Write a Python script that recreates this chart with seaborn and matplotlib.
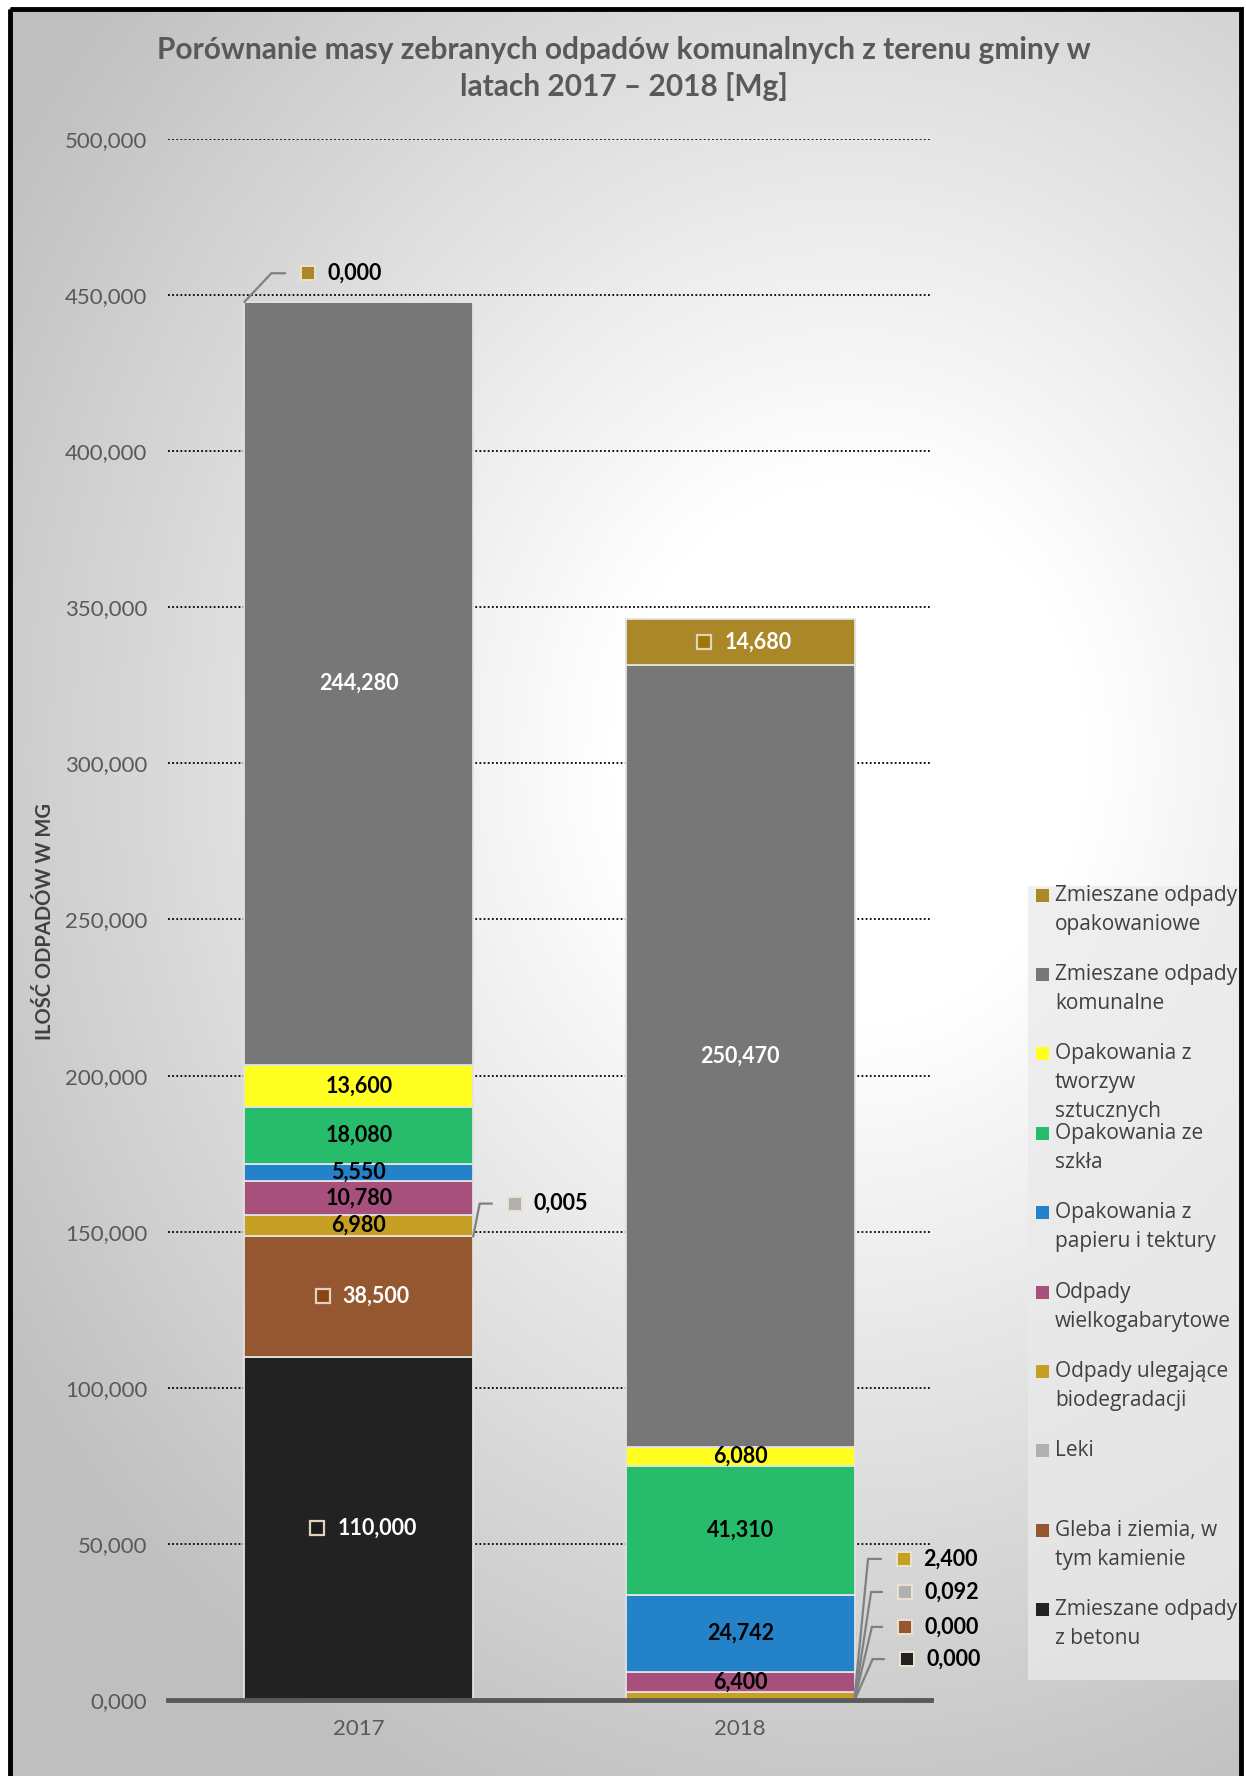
"""
Porównanie masy zebranych odpadów komunalnych 2017-2018 - stacked bar chart
"""

import numpy as np
import matplotlib
matplotlib.use('Agg')
import matplotlib.pyplot as plt
from matplotlib.patches import Rectangle
import seaborn as sns

YEARS = ['2017', '2018']
CATEGORIES = [
    'Zmieszane odpady z betonu',
    'Gleba i ziemia, w tym kamienie',
    'Leki',
    'Odpady ulegające biodegradacji',
    'Odpady wielkogabarytowe',
    'Opakowania z papieru i tektury',
    'Opakowania ze szkła',
    'Opakowania z tworzyw sztucznych',
    'Zmieszane odpady komunalne',
    'Zmieszane odpady opakowaniowe',
]
MASS_2017 = [110.000, 38.500, 0.005, 6.980, 10.780, 5.550, 18.080, 13.600, 244.280, 0.000]
MASS_2018 = [0.000, 0.000, 0.092, 2.400, 6.400, 24.742, 41.310, 6.080, 250.470, 14.680]

COLORS = ['#222222', '#955730', '#B0B0B0', '#C6A024', '#A8507C',
          '#2382C8', '#27BB6C', '#FFFF22', '#777777', '#AA8727']
KEY_COLORS = {0: '#1c1c1c', 1: '#8a4512', 9: '#9c7800'}
WHITE_TEXT = {0, 1, 8, 9}

LEGEND_LINES = {
    9: ['Zmieszane odpady', 'opakowaniowe'],
    8: ['Zmieszane odpady', 'komunalne'],
    7: ['Opakowania z', 'tworzyw', 'sztucznych'],
    6: ['Opakowania ze', 'szkła'],
    5: ['Opakowania z', 'papieru i tektury'],
    4: ['Odpady', 'wielkogabarytowe'],
    3: ['Odpady ulegające', 'biodegradacji'],
    2: ['Leki'],
    1: ['Gleba i ziemia, w', 'tym kamienie'],
    0: ['Zmieszane odpady', 'z betonu'],
}

# labels drawn with a legend key inside the bar
KEYED = {(0, 0), (0, 1), (1, 9)}
# callouts: (year, category, start_side, knee_x, end_x, label_y)
CALLOUTS = [
    (0, 9, 'left', -0.229, -0.193, 457.0),
    (0, 2, 'right', 0.317, 0.349, 159.0),
    (1, 3, 'right', 1.335, 1.369, 45.2),
    (1, 2, 'right', 1.343, 1.372, 34.6),
    (1, 1, 'right', 1.345, 1.372, 23.4),
    (1, 0, 'right', 1.347, 1.377, 13.1),
]

W, H = 1246, 1776
FONT = ['Lato', 'DejaVu Sans']
LEGEND_FONT = ['Open Sans', 'DejaVu Sans']


def fmt(v):
    return f"{v:.3f}".replace('.', ',')


def draw_background(fig):
    bg = fig.add_axes([0, 0, 1, 1], zorder=-10)
    yy, xx = np.mgrid[0:H, 0:W]
    r = np.sqrt(((xx - 850) / 1100.0) ** 2 + ((yy - 750) / 1250.0) ** 2)
    t = np.clip((r - 0.22) / 0.70, 0, 1)
    g = 1.0 - 0.25 * t
    img = np.dstack([g, g, g])
    bg.imshow(img, extent=(9, 1240, H, 9), aspect='auto', interpolation='bilinear')
    bg.set_xlim(0, W)
    bg.set_ylim(H, 0)
    bg.axis('off')
    bg.add_patch(Rectangle((9.5, 9.5), 1231, H + 10, fill=False, edgecolor='black', linewidth=3.5))
    return bg


def main():
    sns.set_theme(style='white')
    plt.rcParams['font.family'] = FONT

    fig = plt.figure(figsize=(W / 100, H / 100), dpi=100, facecolor='white')
    bg = draw_background(fig)

    ax = fig.add_axes([168 / W, 1 - 1700 / H, (931 - 168) / W, (1700 - 139) / H], zorder=1)
    ax.patch.set_alpha(0)

    masses = np.array([MASS_2017, MASS_2018])
    bottoms = np.zeros_like(masses)
    bottom = np.zeros(2)
    for i, cat in enumerate(CATEGORIES):
        vals = masses[:, i]
        bottoms[:, i] = bottom
        sns.barplot(x=YEARS, y=vals, color=COLORS[i], saturation=1, width=0.6,
                    bottom=bottom.copy(), edgecolor='#e2e2e2', linewidth=1.3,
                    errorbar=None, ax=ax, zorder=2)
        bottom = bottom + vals

    ax.set_ylim(0, 500)
    ax.set_xlim(-0.5, 1.5)
    ax.set(xlabel='', ylabel='')
    ticks = np.arange(0, 501, 50)
    ax.set_yticks(ticks)
    ax.set_yticklabels([fmt(t) for t in ticks])
    ax.tick_params(axis='y', length=0, pad=15, labelsize=16, labelcolor='#595959')
    ax.tick_params(axis='x', length=0, pad=14, labelsize=16, labelcolor='#595959')
    ax.set_axisbelow(True)
    ax.yaxis.grid(True, color='black', linestyle=(0, (1, 1.3)), linewidth=1.3)
    for s in ['top', 'left', 'right']:
        ax.spines[s].set_visible(False)
    ax.spines['bottom'].set_color('#595959')
    ax.spines['bottom'].set_linewidth(3.5)
    ax.spines['bottom'].set_zorder(3)

    callout_set = {(c[0], c[1]) for c in CALLOUTS}
    for y in range(2):
        for i in range(len(CATEGORIES)):
            if (y, i) in callout_set:
                continue
            v = masses[y, i]
            yc = bottoms[y, i] + v / 2
            label = fmt(v)
            color = 'white' if i in WHITE_TEXT else 'black'
            if (y, i) in KEYED:
                tx = y - 0.056 + (7 - len(label)) * 0.014
                ax.plot(tx - 0.053, yc, marker='s', ms=10, mfc=KEY_COLORS[i],
                        mec='#e0d2c0', mew=1.6, zorder=4)
                ax.text(tx, yc, label, ha='left', va='center', fontsize=15.5,
                        fontweight='bold', color=color, zorder=4)
            else:
                ax.text(y, yc, label, ha='center', va='center', fontsize=15.5,
                        fontweight='bold', color=color, zorder=4)

    for y, i, side, kx, ex, ly in CALLOUTS:
        v = masses[y, i]
        sx = y - 0.3 if side == 'left' else y + 0.3
        sy = bottoms[y, i] + v / 2
        ax.plot([sx, kx, ex], [sy, ly, ly], color='#808080', linewidth=1.6,
                zorder=3, clip_on=False, solid_joinstyle='miter')
        ax.plot(ex + 0.06, ly, marker='s', ms=10.5, mfc=COLORS[i], mec='#ece2cc',
                mew=1.4, zorder=4, clip_on=False)
        ax.text(ex + 0.11, ly, fmt(v), ha='left', va='center', fontsize=15.5,
                fontweight='bold', color='black', zorder=4, clip_on=False)

    # title and axis label
    fig.text(624 / W, 1 - 50 / H, 'Porównanie masy zebranych odpadów komunalnych z terenu gminy w',
             ha='center', va='center', fontsize=21.5, fontweight='bold', color='#595959')
    fig.text(624 / W, 1 - 87 / H, 'latach 2017 – 2018 [Mg]',
             ha='center', va='center', fontsize=21.5, fontweight='bold', color='#595959')
    fig.text(45 / W, 1 - 922 / H, 'ILOŚĆ ODPADÓW W MG', rotation=90, ha='center',
             va='center', fontsize=14.5, fontweight='bold', color='#404040')

    # legend
    bg.add_patch(Rectangle((1028, 886), 1239 - 1028, 1680 - 886, facecolor='#eaeaea',
                           alpha=0.75, edgecolor='none', zorder=2))
    for k, i in enumerate(reversed(range(len(CATEGORIES)))):
        y0 = 895 + k * 79.4
        bg.add_patch(Rectangle((1036, y0 - 6.5), 13, 13, facecolor=COLORS[i],
                               edgecolor='none', zorder=3))
        for j, line in enumerate(LEGEND_LINES[i]):
            bg.text(1055, y0 + j * 29, line, ha='left', va='center', fontsize=15,
                    color='#404040', family=LEGEND_FONT, zorder=3)

    fig.savefig('out.png', dpi=100, facecolor='white')
    plt.close(fig)


if __name__ == '__main__':
    main()
